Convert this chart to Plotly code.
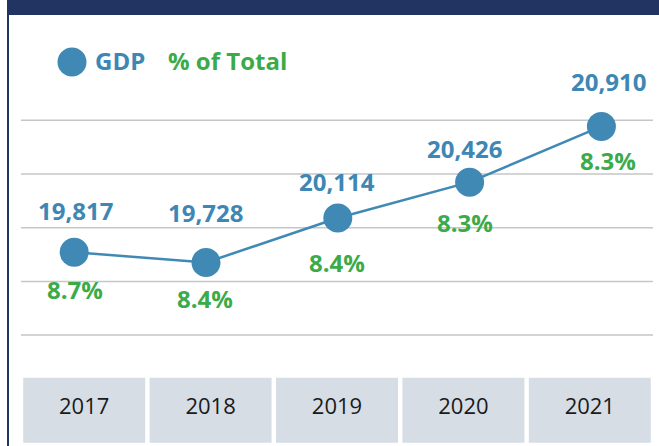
import plotly.graph_objects as go

# ---- data ----
years = ["2017", "2018", "2019", "2020", "2021"]
gdp = [19817, 19728, 20114, 20426, 20910]
pct_of_total = [8.7, 8.4, 8.4, 8.3, 8.3]

# ---- style ----
BLUE = "#4189b5"
LABEL_BLUE = "#3e87b4"
GREEN = "#3bab4a"
NAVY = "#213462"
GRID = "#c6c6c6"
BOX = "#d6dde5"
FONT = "Open Sans"

W, H = 659, 446
L, R, T, B = 21, 653, 15, 443
PW, PH = R - L, B - T


def px_x(p):
    return (p - L) / PW


def px_y(p):
    return (B - p) / PH


# per-label nudges (pixels), as in the original layout
GDP_SHIFT_UP = [40, 48, 35, 32, 43]
PCT_SHIFT_DOWN = [39, 38, 46, 42, 36]
LABEL_XSHIFT = [1, -1, -1, -5, 7]

fig = go.Figure()

# category "table" row text (on second x axis, centred in boxes)
fig.add_trace(go.Scatter(
    x=years, y=[px_y(408)] * len(years), xaxis="x2", yaxis="y3",
    mode="text", text=years, textposition="middle center",
    textfont=dict(family=FONT, size=22, color="#1a1a1a"),
    hoverinfo="skip", showlegend=False,
))

# GDP line
fig.add_trace(go.Scatter(
    x=years, y=gdp, mode="lines+markers",
    line=dict(color=BLUE, width=2.5),
    marker=dict(color=BLUE, size=29),
    cliponaxis=False, showlegend=False,
))

shapes = []
# navy header bar
shapes.append(dict(type="rect", xref="paper", yref="paper",
                   x0=px_x(7), x1=px_x(W + 2), y0=px_y(15), y1=px_y(-2),
                   fillcolor=NAVY, line=dict(width=0), layer="above"))
# left border
shapes.append(dict(type="line", xref="paper", yref="paper",
                   x0=px_x(8), x1=px_x(8), y0=px_y(10), y1=px_y(H + 2),
                   line=dict(color=NAVY, width=2)))
# horizontal gridlines
for k in range(5):
    yy = px_y(120.3 + k * 53.7)
    shapes.append(dict(type="line", xref="paper", yref="paper",
                       x0=0, x1=1, y0=yy, y1=yy,
                       line=dict(color=GRID, width=1.5), layer="below"))
# category boxes
for i, _ in enumerate(years):
    shapes.append(dict(type="rect", xref="x2", yref="paper",
                       x0=i - 0.4825, x1=i + 0.4825,
                       y0=px_y(442.7), y1=px_y(377.7),
                       fillcolor=BOX, line=dict(width=0), layer="below"))
# legend dot
shapes.append(dict(type="circle", xref="paper", yref="paper",
                   x0=px_x(57.5), x1=px_x(86.5), y0=px_y(76.5), y1=px_y(47.5),
                   fillcolor=BLUE, line=dict(width=0)))

annotations = []
for i, (v, p) in enumerate(zip(gdp, pct_of_total)):
    annotations.append(dict(
        x=i, y=v, xref="x", yref="y", text=f"{v:,}", showarrow=False,
        xanchor="center", yanchor="middle",
        xshift=LABEL_XSHIFT[i], yshift=GDP_SHIFT_UP[i] + 2,
        font=dict(family=FONT, size=24, color=LABEL_BLUE, weight="bold"),
    ))
    annotations.append(dict(
        x=i, y=v, xref="x", yref="y", text=f"{p:.1f}%", showarrow=False,
        xanchor="center", yanchor="middle",
        xshift=LABEL_XSHIFT[i], yshift=-PCT_SHIFT_DOWN[i] + 2,
        font=dict(family=FONT, size=24, color=GREEN, weight="bold"),
    ))
# legend texts
annotations.append(dict(x=px_x(93), y=px_y(60), xref="paper", yref="paper",
                        text="GDP", showarrow=False, xanchor="left", yanchor="middle",
                        font=dict(family=FONT, size=24, color=LABEL_BLUE, weight="bold")))
annotations.append(dict(x=px_x(166), y=px_y(60), xref="paper", yref="paper",
                        text="% of Total", showarrow=False, xanchor="left", yanchor="middle",
                        font=dict(family=FONT, size=24, color=GREEN, weight="bold")))

# line x axis: category centres at ~74px + 131.8px steps
span = 4 * PW / (601.4 - 74.2)
r0 = -(74.2 - L) / PW * span

fig.update_layout(
    width=W, height=H,
    margin=dict(l=L, r=W - R, t=T, b=H - B),
    paper_bgcolor="white", plot_bgcolor="white",
    showlegend=False,
    hovermode=False,
    xaxis=dict(type="category", categoryorder="array", categoryarray=years,
               range=[r0, r0 + span], visible=False),
    xaxis2=dict(type="category", categoryorder="array", categoryarray=years,
                range=[-0.5, 4.5], overlaying="x", visible=False, anchor="y3"),
    yaxis=dict(range=[18160, 21878], visible=False),
    yaxis3=dict(range=[0, 1], overlaying="y", visible=False, anchor="x2"),
    shapes=shapes,
    annotations=annotations,
)

fig.write_html(
    "out.html",
    config={"displayModeBar": False, "staticPlot": True},
    post_script="document.body.style.margin='0';document.body.style.overflow='hidden';",
)
